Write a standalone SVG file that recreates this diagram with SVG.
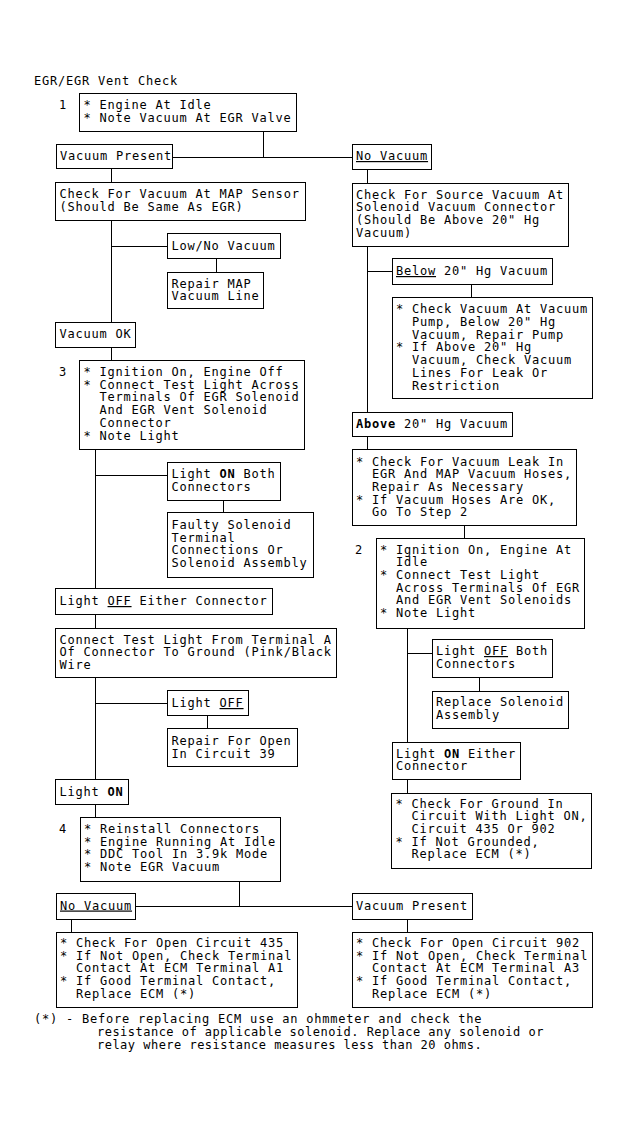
<svg xmlns="http://www.w3.org/2000/svg" width="630" height="1128" viewBox="0 0 630 1128">
<style>
.b{fill:none;stroke:#000;stroke-width:1}
.c line{stroke:#000;stroke-width:1}
text{font-family:"DejaVu Sans Mono","Liberation Mono",monospace;font-size:12px;letter-spacing:0.78px;fill:#000}
.u{text-decoration:underline}
.k{font-weight:bold}
.n{letter-spacing:0.48px}
</style>
<rect x="0" y="0" width="630" height="1128" fill="#fff"/>
<text x="34" y="85">EGR/EGR Vent Check</text>

<g class="c" id="connectors">
<line x1="263.5" y1="131" x2="263.5" y2="157"/>
<line x1="172" y1="157.5" x2="352" y2="157.5"/>
<line x1="111.5" y1="168" x2="111.5" y2="182"/>
<line x1="367.5" y1="169" x2="367.5" y2="183"/>
<line x1="111.5" y1="220" x2="111.5" y2="322"/>
<line x1="111.5" y1="246.5" x2="167" y2="246.5"/>
<line x1="216.5" y1="258" x2="216.5" y2="272"/>
<line x1="111.5" y1="347" x2="111.5" y2="360"/>
<line x1="95.5" y1="449" x2="95.5" y2="588"/>
<line x1="95.5" y1="475.5" x2="167" y2="475.5"/>
<line x1="223.5" y1="500" x2="223.5" y2="512"/>
<line x1="95.5" y1="614" x2="95.5" y2="628"/>
<line x1="95.5" y1="677" x2="95.5" y2="779"/>
<line x1="95.5" y1="703.5" x2="167" y2="703.5"/>
<line x1="207.5" y1="715" x2="207.5" y2="728"/>
<line x1="95.5" y1="804" x2="95.5" y2="817"/>
<line x1="239.5" y1="881" x2="239.5" y2="906"/>
<line x1="135" y1="906.5" x2="352" y2="906.5"/>
<line x1="71.5" y1="919" x2="71.5" y2="932"/>
<line x1="407.5" y1="919" x2="407.5" y2="932"/>
<line x1="367.5" y1="246" x2="367.5" y2="412"/>
<line x1="367.5" y1="271.5" x2="392" y2="271.5"/>
<line x1="471.5" y1="284" x2="471.5" y2="297"/>
<line x1="367.5" y1="436" x2="367.5" y2="449"/>
<line x1="464.5" y1="525" x2="464.5" y2="538"/>
<line x1="407.5" y1="628" x2="407.5" y2="742"/>
<line x1="407.5" y1="653.5" x2="432" y2="653.5"/>
<line x1="479.5" y1="677" x2="479.5" y2="691"/>
<line x1="407.5" y1="779" x2="407.5" y2="793"/>
</g>

<g id="step1">
<text x="59" y="109">1</text>
<rect class="b" x="79.5" y="93.5" width="217" height="38"/>
<text xml:space="preserve"><tspan x="83.5" y="109">* Engine At Idle</tspan><tspan x="83.5" y="122">* Note Vacuum At EGR Valve</tspan></text>
</g>
<g id="vacuum-present-1">
<rect class="b" x="56.5" y="144.5" width="116" height="24"/>
<text x="60" y="160">Vacuum Present</text>
</g>
<g id="no-vacuum-1">
<rect class="b" x="352.5" y="144.5" width="79" height="25"/>
<text x="356" y="160" class="u">No Vacuum</text>
</g>
<g id="check-map">
<rect class="b" x="55.5" y="182.5" width="250" height="38"/>
<text><tspan x="59.5" y="198">Check For Vacuum At MAP Sensor</tspan><tspan x="59.5" y="211">(Should Be Same As EGR)</tspan></text>
</g>
<g id="check-source">
<rect class="b" x="352.5" y="183.5" width="216" height="63"/>
<text><tspan x="356" y="198.5">Check For Source Vacuum At</tspan><tspan x="356" y="211.3">Solenoid Vacuum Connector</tspan><tspan x="356" y="224.1">(Should Be Above 20" Hg</tspan><tspan x="356" y="236.9">Vacuum)</tspan></text>
</g>
<g id="low-no-vacuum">
<rect class="b" x="167.5" y="233.5" width="113" height="25"/>
<text x="171.5" y="250">Low/No Vacuum</text>
</g>
<g id="repair-map">
<rect class="b" x="167.5" y="272.5" width="96" height="36"/>
<text><tspan x="171.5" y="287.5">Repair MAP</tspan><tspan x="171.5" y="300">Vacuum Line</tspan></text>
</g>
<g id="vacuum-ok">
<rect class="b" x="55.5" y="322.5" width="80" height="25"/>
<text x="59.5" y="338">Vacuum OK</text>
</g>
<g id="step3">
<text x="59" y="376">3</text>
<rect class="b" x="79.5" y="360.5" width="225" height="89"/>
<text xml:space="preserve"><tspan x="83.5" y="376">* Ignition On, Engine Off</tspan><tspan x="83.5" y="388.7">* Connect Test Light Across</tspan><tspan x="99.5" y="401.4">Terminals Of EGR Solenoid</tspan><tspan x="99.5" y="414.1">And EGR Vent Solenoid</tspan><tspan x="99.5" y="426.8">Connector</tspan><tspan x="83.5" y="439.5">* Note Light</tspan></text>
</g>
<g id="light-on-both">
<rect class="b" x="167.5" y="462.5" width="113" height="38"/>
<text><tspan x="171.5" y="478">Light <tspan class="k">ON</tspan> Both</tspan><tspan x="171.5" y="490.5">Connectors</tspan></text>
</g>
<g id="faulty-solenoid">
<rect class="b" x="167.5" y="512.5" width="146" height="65"/>
<text><tspan x="171.5" y="529">Faulty Solenoid</tspan><tspan x="171.5" y="541.7">Terminal</tspan><tspan x="171.5" y="554.4">Connections Or</tspan><tspan x="171.5" y="567.1">Solenoid Assembly</tspan></text>
</g>
<g id="light-off-either">
<rect class="b" x="55.5" y="588.5" width="217" height="26"/>
<text x="59.5" y="605">Light <tspan class="u">OFF</tspan> Either Connector</text>
</g>
<g id="connect-terminal-a">
<rect class="b" x="55.5" y="628.5" width="281" height="49"/>
<text><tspan x="59.5" y="643.5">Connect Test Light From Terminal A</tspan><tspan x="59.5" y="656">Of Connector To Ground (Pink/Black</tspan><tspan x="59.5" y="668.5">Wire</tspan></text>
</g>
<g id="light-off">
<rect class="b" x="167.5" y="690.5" width="81" height="25"/>
<text x="171.5" y="707">Light <tspan class="u">OFF</tspan></text>
</g>
<g id="repair-open-39">
<rect class="b" x="167.5" y="728.5" width="130" height="38"/>
<text><tspan x="171.5" y="745">Repair For Open</tspan><tspan x="171.5" y="757.5">In Circuit 39</tspan></text>
</g>
<g id="light-on">
<rect class="b" x="55.5" y="779.5" width="73" height="25"/>
<text x="59.5" y="796">Light <tspan class="k">ON</tspan></text>
</g>
<g id="step4">
<text x="59" y="833">4</text>
<rect class="b" x="80.5" y="817.5" width="200" height="64"/>
<text xml:space="preserve"><tspan x="84" y="833">* Reinstall Connectors</tspan><tspan x="84" y="845.7">* Engine Running At Idle</tspan><tspan x="84" y="858.4">* DDC Tool In 3.9k Mode</tspan><tspan x="84" y="871.1">* Note EGR Vacuum</tspan></text>
</g>
<g id="no-vacuum-2">
<rect class="b" x="56.5" y="893.5" width="79" height="26"/>
<text x="60" y="909.5" class="u">No Vacuum</text>
</g>
<g id="vacuum-present-2">
<rect class="b" x="352.5" y="893.5" width="120" height="26"/>
<text x="356" y="909.5">Vacuum Present</text>
</g>
<g id="circuit-435">
<rect class="b" x="56.5" y="932.5" width="241" height="75"/>
<text xml:space="preserve"><tspan x="60" y="947">* Check For Open Circuit 435</tspan><tspan x="60" y="959.7">* If Not Open, Check Terminal</tspan><tspan x="76" y="972.4">Contact At ECM Terminal A1</tspan><tspan x="60" y="985.1">* If Good Terminal Contact,</tspan><tspan x="76" y="997.8">Replace ECM (*)</tspan></text>
</g>
<g id="circuit-902">
<rect class="b" x="352.5" y="932.5" width="240" height="75"/>
<text xml:space="preserve"><tspan x="356" y="947">* Check For Open Circuit 902</tspan><tspan x="356" y="959.7">* If Not Open, Check Terminal</tspan><tspan x="372" y="972.4">Contact At ECM Terminal A3</tspan><tspan x="356" y="985.1">* If Good Terminal Contact,</tspan><tspan x="372" y="997.8">Replace ECM (*)</tspan></text>
</g>
<g id="below-20">
<rect class="b" x="392.5" y="258.5" width="160" height="26"/>
<text x="396" y="275"><tspan class="u">Below</tspan> 20" Hg Vacuum</text>
</g>
<g id="check-pump">
<rect class="b" x="392.5" y="297.5" width="200" height="101"/>
<text xml:space="preserve"><tspan x="396" y="313">* Check Vacuum At Vacuum</tspan><tspan x="412" y="325.8">Pump, Below 20" Hg</tspan><tspan x="412" y="338.6">Vacuum, Repair Pump</tspan><tspan x="396" y="351.4">* If Above 20" Hg</tspan><tspan x="412" y="364.2">Vacuum, Check Vacuum</tspan><tspan x="412" y="377">Lines For Leak Or</tspan><tspan x="412" y="389.8">Restriction</tspan></text>
</g>
<g id="above-20">
<rect class="b" x="352.5" y="412.5" width="160" height="24"/>
<text x="356" y="428"><tspan class="k">Above</tspan> 20" Hg Vacuum</text>
</g>
<g id="check-leak">
<rect class="b" x="352.5" y="449.5" width="224" height="76"/>
<text xml:space="preserve"><tspan x="356" y="465.5">* Check For Vacuum Leak In</tspan><tspan x="372" y="478.2">EGR And MAP Vacuum Hoses,</tspan><tspan x="372" y="490.9">Repair As Necessary</tspan><tspan x="356" y="503.6">* If Vacuum Hoses Are OK,</tspan><tspan x="372" y="516.3">Go To Step 2</tspan></text>
</g>
<g id="step2">
<text x="355" y="553.5">2</text>
<rect class="b" x="376.5" y="538.5" width="208" height="90"/>
<text xml:space="preserve"><tspan x="380" y="553.5">* Ignition On, Engine At</tspan><tspan x="396" y="566.2">Idle</tspan><tspan x="380" y="578.9">* Connect Test Light</tspan><tspan x="396" y="591.6">Across Terminals Of EGR</tspan><tspan x="396" y="604.3">And EGR Vent Solenoids</tspan><tspan x="380" y="617">* Note Light</tspan></text>
</g>
<g id="light-off-both">
<rect class="b" x="432.5" y="639.5" width="120" height="38"/>
<text><tspan x="436" y="655">Light <tspan class="u">OFF</tspan> Both</tspan><tspan x="436" y="667.5">Connectors</tspan></text>
</g>
<g id="replace-solenoid">
<rect class="b" x="432.5" y="691.5" width="136" height="37"/>
<text><tspan x="436" y="706">Replace Solenoid</tspan><tspan x="436" y="718.5">Assembly</tspan></text>
</g>
<g id="light-on-either">
<rect class="b" x="392.5" y="742.5" width="128" height="37"/>
<text><tspan x="396" y="757.5">Light <tspan class="k">ON</tspan> Either</tspan><tspan x="396" y="770">Connector</tspan></text>
</g>
<g id="check-ground">
<rect class="b" x="391.5" y="793.5" width="200" height="75"/>
<text xml:space="preserve"><tspan x="395.5" y="807.5">* Check For Ground In</tspan><tspan x="411.5" y="820.2">Circuit With Light ON,</tspan><tspan x="411.5" y="832.9">Circuit 435 Or 902</tspan><tspan x="395.5" y="845.6">* If Not Grounded,</tspan><tspan x="411.5" y="858.3">Replace ECM (*)</tspan></text>
</g>

<g id="footnote">
<text x="34" y="1023">(*) - Before replacing ECM use an ohmmeter and check the</text>
<text class="n" x="97" y="1036">resistance of applicable solenoid. Replace any solenoid or</text>
<text class="n" x="97" y="1049">relay where resistance measures less than 20 ohms.</text>
</g>
</svg>
